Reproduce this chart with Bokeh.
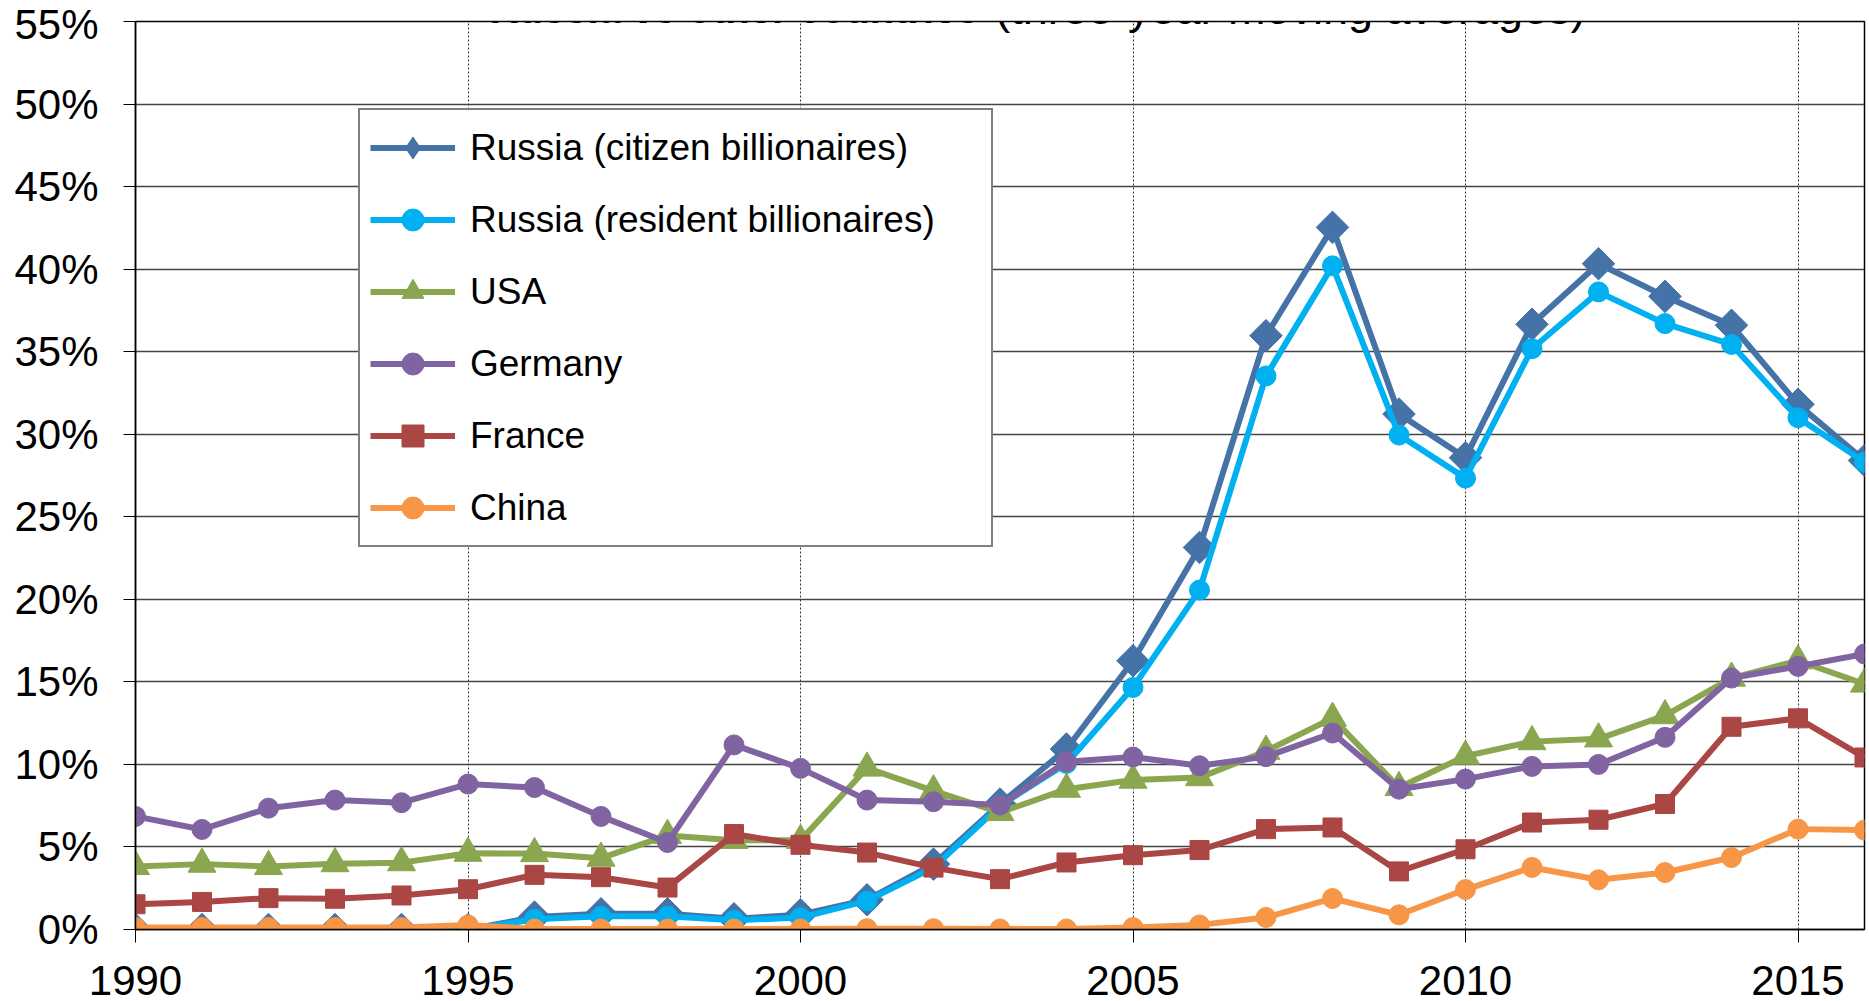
from math import pi
from bokeh.plotting import figure
from bokeh.models import (Range1d, PrintfTickFormatter, FixedTicker, Legend,
                          LegendItem, Label)
from bokeh.embed import file_html
from bokeh.resources import INLINE

years = list(range(1990, 2017))

russia_citizen = [0, 0, 0, 0, 0, 0, 0.75, 0.95, 0.95, 0.65, 0.9, 1.8, 3.96, 7.6,
                  10.93, 16.28, 23.14, 35.97, 42.53, 31.22, 28.58, 36.66, 40.33,
                  38.35, 36.6, 31.81, 28.41]
russia_resident = [0, 0, 0, 0, 0, 0, 0.62, 0.8, 0.8, 0.56, 0.72, 1.73, 3.75, 7.5,
                   10.06, 14.66, 20.56, 33.53, 40.2, 29.95, 27.34, 35.18, 38.62,
                   36.7, 35.44, 31.0, 28.31]
usa = [3.82, 3.96, 3.82, 3.99, 4.05, 4.62, 4.6, 4.32, 5.7, 5.4, 5.4, 9.78, 8.4,
       7.09, 8.5, 9.05, 9.2, 10.8, 12.8, 8.6, 10.5, 11.38, 11.55, 12.95, 15.23,
       16.28, 14.87]
germany = [6.85, 6.06, 7.35, 7.84, 7.68, 8.81, 8.6, 6.85, 5.27, 11.18, 9.76, 7.84,
           7.74, 7.54, 10.16, 10.45, 9.92, 10.47, 11.9, 8.5, 9.11, 9.88, 10.0,
           11.64, 15.23, 15.94, 16.69]
france = [1.53, 1.67, 1.9, 1.86, 2.06, 2.44, 3.31, 3.17, 2.54, 5.78, 5.13, 4.66,
          3.75, 3.05, 4.06, 4.5, 4.81, 6.08, 6.18, 3.52, 4.86, 6.48, 6.65, 7.6,
          12.28, 12.79, 10.42]
china = [0.12, 0.12, 0.12, 0.12, 0.12, 0.28, 0.03, 0.03, 0.03, 0.03, 0.03, 0.05,
         0.05, 0.03, 0.03, 0.12, 0.28, 0.73, 1.88, 0.89, 2.42, 3.76, 3.01, 3.45,
         4.36, 6.08, 6.02]

series_names = ["Russia (citizen billionaires)", "Russia (resident billionaires)",
                "USA", "Germany", "France", "China"]
x_ticks = [1990, 1995, 2000, 2005, 2010, 2015]
y_ticks = [0, 5, 10, 15, 20, 25, 30, 35, 40, 45, 50, 55]
title_bold = "Russia vs other countries"
title_rest = "(three-year moving averages)"

FONT = "Liberation Sans"

p = figure(width=1869, height=1001, x_range=Range1d(1990, 2016),
           y_range=Range1d(0, 55), output_backend="svg", toolbar_location=None,
           min_border_left=135, min_border_right=5, min_border_top=21,
           min_border_bottom=72, background_fill_color="white",
           border_fill_color="white")
p.outline_line_color = "black"
p.outline_line_width = 1.5

# axes
p.xaxis.ticker = FixedTicker(ticks=x_ticks)
p.yaxis.ticker = FixedTicker(ticks=y_ticks)
p.yaxis.formatter = PrintfTickFormatter(format="%d%%")
for ax in (p.xaxis[0], p.yaxis[0]):
    ax.axis_line_color = "black"
    ax.axis_line_width = 1.5
    ax.major_tick_line_color = "black"
    ax.major_tick_in = 0
    ax.minor_tick_line_color = None
    ax.major_label_text_font = FONT
    ax.major_label_text_font_size = "42px"
    ax.major_label_text_color = "black"
p.xaxis.major_tick_out = 13
p.xaxis.major_label_standoff = 23
p.yaxis.major_tick_out = 12
p.yaxis.major_label_standoff = 25

p.ygrid.ticker = FixedTicker(ticks=y_ticks)
p.ygrid.grid_line_color = "#444444"
p.ygrid.grid_line_width = 1.4
p.xgrid.ticker = FixedTicker(ticks=x_ticks)
p.xgrid.grid_line_color = "#333333"
p.xgrid.grid_line_width = 1
p.xgrid.grid_line_dash = "2 2"

styles = [
    (russia_citizen, "#4572A7", "square", 23, pi / 4, "diamond"),
    (russia_resident, "#00B0F0", "circle", 20, 0, None),
    (usa, "#8AA64E", "triangle", 28, 0, None),
    (germany, "#8064A2", "circle", 20, 0, None),
    (france, "#AA4643", "square", 19, 0, None),
    (china, "#F79646", "circle", 20, 0, None),
]

items = []
for name, (vals, color, marker, size, ang, legend_marker) in zip(series_names, styles):
    lr = p.line(years, vals, line_color=color, line_width=6)
    legend_glyph = None
    if legend_marker is not None:
        # diamond drawn under the rotated squares; it only serves the legend,
        # which would otherwise draw the rotated square unrotated
        legend_glyph = p.scatter(years, vals, marker=legend_marker, size=20,
                                 fill_color=color, line_color=color)
    sr = p.scatter(years, vals, marker=marker, size=size, angle=ang,
                   fill_color=color, line_color=color)
    items.append(LegendItem(label=name, renderers=[lr, legend_glyph or sr]))

legend = Legend(items=items, location=(223, 382), orientation="vertical")
legend.label_text_font = FONT
legend.label_text_font_size = "37px"
legend.label_text_color = "black"
legend.glyph_width = 85
legend.glyph_height = 55
legend.label_height = 55
legend.label_width = 511
legend.label_standoff = 15
legend.spacing = 17
legend.padding = 10
legend.margin = 0
legend.border_line_color = "black"
legend.border_line_width = 2
legend.background_fill_color = "white"
legend.background_fill_alpha = 1
p.add_layout(legend)

p.add_layout(Label(x=2002.68, y=55, y_offset=13, text=title_bold,
                   text_font=FONT, text_font_size="40px", text_font_style="bold",
                   text_align="right", text_baseline="alphabetic",
                   text_color="black"))
p.add_layout(Label(x=2002.93, y=55, y_offset=13, text=title_rest,
                   text_font=FONT, text_font_size="45px",
                   text_align="left", text_baseline="alphabetic",
                   text_color="black"))

open("out.html", "w").write(file_html(p, INLINE))
